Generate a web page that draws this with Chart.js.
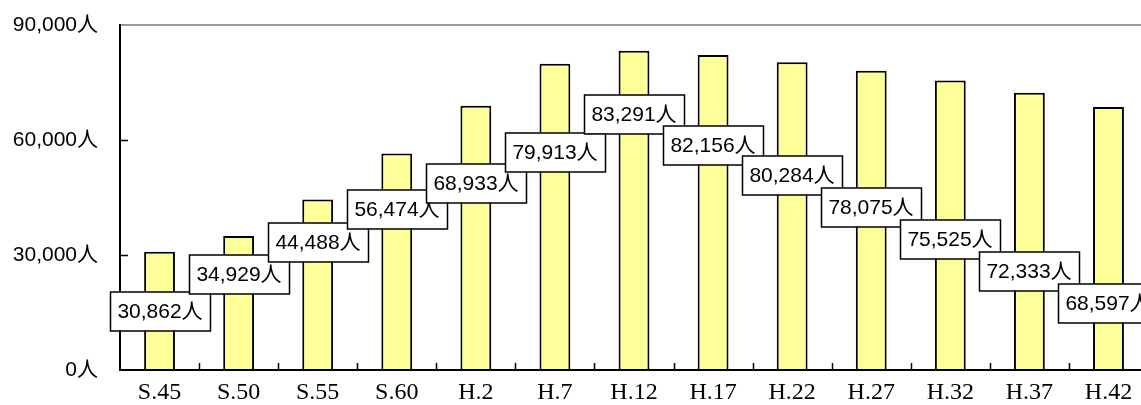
<!DOCTYPE html>
<html>
<head>
<meta charset="utf-8">
<script src="https://cdn.jsdelivr.net/npm/chart.js@4/dist/chart.umd.min.js"></script>
<style>
  html, body { margin: 0; padding: 0; background: #fff; overflow: hidden; }
  #wrap { width: 1150px; height: 405px; }
</style>
</head>
<body>
<div id="wrap"><canvas id="mycanvas" width="1150" height="405"></canvas></div>
<script>
// population by survey year (S = Showa, H = Heisei)
var years = ["S.45", "S.50", "S.55", "S.60", "H.2", "H.7", "H.12", "H.17", "H.22", "H.27", "H.32", "H.37", "H.42"];
var population = [30862, 34929, 44488, 56474, 68933, 79913, 83291, 82156, 80284, 78075, 75525, 72333, 68597];
var yTicks = [0, 30000, 60000, 90000];

// where each value box sits, in axis units (box centre)
var labelAnchor = [15400, 25000, 33300, 42000, 48900, 56900, 66700, 58700, 51000, 42400, 34200, 25700, 17600];

var sansFont = '"Liberation Sans", "Noto Sans CJK JP", sans-serif';
var serifFont = '"Liberation Serif", "Noto Sans CJK JP", serif';

function fmt(v){
    return v.toLocaleString('en-US') + '人';
}

// small tick marks drawn inside the plot area
var innerTicks = {
    id: 'innerTicks',
    afterDraw: function(chart){
        var ctx = chart.ctx;
        var xs = chart.scales.x, ys = chart.scales.y;
        var area = chart.chartArea;
        ctx.save();
        ctx.strokeStyle = '#000';
        ctx.lineWidth = 1.5;
        ctx.beginPath();
        for(var i = 1; i < years.length; i++){
            var bx = Math.round((xs.getPixelForValue(i - 1) + xs.getPixelForValue(i)) / 2) + 0.5;
            ctx.moveTo(bx, area.bottom);
            ctx.lineTo(bx, area.bottom - 7);
        }
        for(var j = 1; j < yTicks.length - 1; j++){
            var py = Math.round(ys.getPixelForValue(yTicks[j])) + 0.5;
            ctx.moveTo(area.left, py);
            ctx.lineTo(area.left + 8, py);
        }
        ctx.stroke();
        ctx.restore();
    }
};

// boxed value labels
var valueBoxes = {
    id: 'valueBoxes',
    afterDatasetsDraw: function(chart){
        var ctx = chart.ctx;
        var xs = chart.scales.x, ys = chart.scales.y;
        var w = 100, h = 39;
        ctx.save();
        ctx.font = '21px ' + sansFont;
        ctx.textAlign = 'center';
        ctx.textBaseline = 'middle';
        for(var i = 0; i < population.length; i++){
            var cx = Math.round(xs.getPixelForValue(i));
            var cy = Math.round(ys.getPixelForValue(labelAnchor[i]));
            var x0 = cx - w / 2, y0 = cy - h / 2;
            ctx.fillStyle = '#fff';
            ctx.fillRect(x0, y0, w, h);
            ctx.strokeStyle = '#000';
            ctx.lineWidth = 1.5;
            ctx.strokeRect(x0 + 0.5, y0 + 0.5, w, h);
            ctx.fillStyle = '#000';
            ctx.fillText(fmt(population[i]), cx, cy + 1);
        }
        ctx.restore();
    }
};

var chartData = {
    labels: years,
    datasets: [
        {
            label: '人口',
            backgroundColor: '#FFFF99',
            borderColor: '#000',
            borderWidth: 2,
            borderSkipped: 'bottom',
            barPercentage: 0.39,
            categoryPercentage: 1.0,
            data: population
        }
    ]
};

var ctx = document.getElementById("mycanvas");

var barGraph = new Chart(ctx, {
    type: 'bar',
    data: chartData,
    plugins: [innerTicks, valueBoxes],
    options: {
        responsive: false,
        animation: false,
        layout: { padding: { top: 25, right: 2, left: 0, bottom: 0 } },
        plugins: {
            legend: { display: false },
            tooltip: { enabled: false }
        },
        scales: {
            x: {
                grid: { display: false, drawTicks: false },
                border: { display: true, color: '#000', width: 2 },
                ticks: {
                    color: '#000',
                    padding: 8,
                    maxRotation: 0,
                    autoSkip: false,
                    font: { family: serifFont, size: 24 }
                },
                afterFit: function(scale){ scale.height = 35; }
            },
            y: {
                min: 0,
                max: 90000,
                afterBuildTicks: function(scale){
                    scale.ticks = yTicks.map(function(v){ return { value: v }; });
                },
                grid: {
                    drawTicks: false,
                    color: function(c){ return c.tick && c.tick.value === 90000 ? '#999' : 'rgba(0,0,0,0)'; },
                    lineWidth: 2
                },
                border: { display: true, color: '#000', width: 2 },
                ticks: {
                    color: '#000',
                    padding: 22,
                    font: { family: sansFont, size: 21 },
                    callback: function(v){ return fmt(v); }
                },
                afterFit: function(scale){
                    scale.width = 120;
                    scale.paddingTop = 0;
                    scale.paddingBottom = 0;
                }
            }
        }
    }
});
</script>
</body>
</html>
